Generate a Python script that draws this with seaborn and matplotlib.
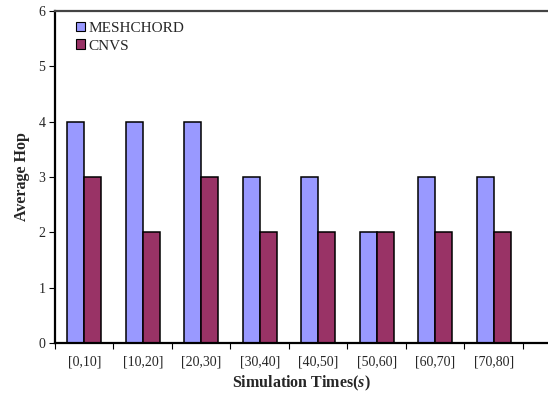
import matplotlib
matplotlib.use("Agg")
import matplotlib.pyplot as plt
from matplotlib.ticker import FixedLocator, NullFormatter
import seaborn as sns
import pandas as pd

intervals = ["[0,10]", "[10,20]", "[20,30]", "[30,40]",
             "[40,50]", "[50,60]", "[60,70]", "[70,80]"]
meshchord = [4, 4, 4, 3, 3, 2, 3, 3]
cnvs = [3, 2, 3, 2, 2, 2, 2, 2]
series_names = ["MESHCHORD", "CNVS"]
palette = ["#9999FF", "#993366"]

df = pd.DataFrame({
    "interval": intervals * 2,
    "hop": meshchord + cnvs,
    "scheme": [series_names[0]] * len(intervals) + [series_names[1]] * len(intervals),
})

sns.set_style("white")
plt.rcParams["font.family"] = ["Liberation Serif", "DejaVu Serif"]
plt.rcParams["mathtext.fontset"] = "custom"
plt.rcParams["mathtext.rm"] = "Liberation Serif:bold"
plt.rcParams["mathtext.it"] = "Liberation Serif:italic:bold"
plt.rcParams["mathtext.bf"] = "Liberation Serif:bold"

fig = plt.figure(figsize=(5.48, 4.05), dpi=100)
ax = fig.add_axes([0.1004, 0.153, 0.8996, 0.82])

sns.barplot(data=df, x="interval", y="hop", hue="scheme", order=intervals,
            hue_order=series_names, palette=palette, width=0.58,
            edgecolor="black", linewidth=1.1, saturation=1, ax=ax)

ax.set_ylim(0, 6)
ax.set_xlim(-0.5, 7.93)
ax.set_yticks(range(0, 7))
ax.tick_params(axis="y", which="major", direction="out", length=4, width=0.8,
               labelsize=10, pad=3, left=True, color="black")

# category labels at centres, tick marks at category boundaries
ax.set_xticks(range(len(intervals)))
ax.set_xticklabels(intervals)
ax.tick_params(axis="x", which="major", length=0, labelsize=10, pad=9)
ax.xaxis.set_minor_locator(FixedLocator([i - 0.5 for i in range(len(intervals) + 1)]))
ax.xaxis.set_minor_formatter(NullFormatter())
ax.tick_params(axis="x", which="minor", direction="out", length=4, width=0.8,
               bottom=True, color="black")

for side in ["left", "bottom"]:
    ax.spines[side].set_color("black")
    ax.spines[side].set_linewidth(1.6)
ax.spines["top"].set_color("#444444")
ax.spines["top"].set_linewidth(1.6)
ax.spines["right"].set_visible(False)

ax.set_xlabel(r"Simulation Times($\mathit{s}$)", fontsize=11.5,
              fontweight="bold", labelpad=4)
ax.set_ylabel("Average Hop", fontsize=11.5, fontweight="bold", labelpad=6)

leg = ax.legend(loc="upper left", bbox_to_anchor=(0.02, 1.0), frameon=False,
                fontsize=11, handlelength=0.6, handleheight=0.6,
                handletextpad=0.25, labelspacing=0.3, borderaxespad=0.3)
for h in leg.legend_handles:
    h.set_edgecolor("black")
    h.set_linewidth(0.8)

fig.savefig("out.png", dpi=100)
